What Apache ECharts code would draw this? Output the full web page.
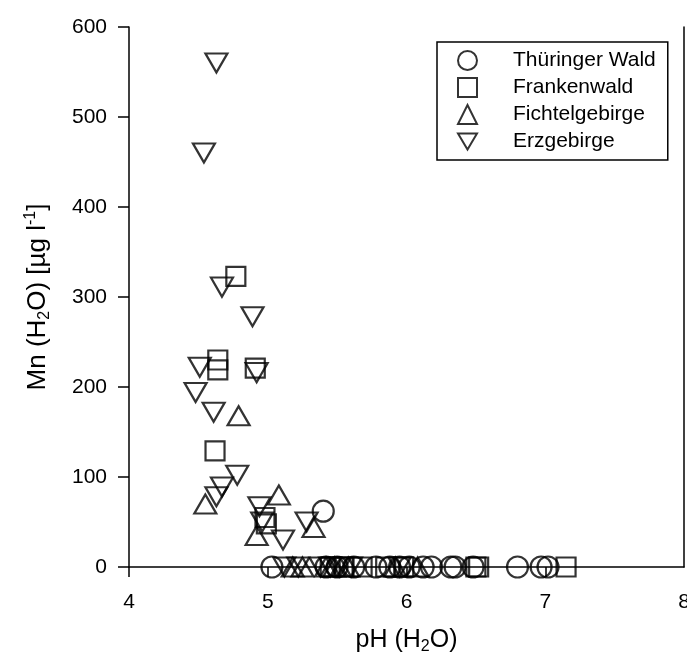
<!DOCTYPE html>
<html>
<head>
<meta charset="utf-8">
<script src="https://cdn.jsdelivr.net/npm/echarts@6/dist/echarts.min.js"></script>
<style>
  html, body { margin: 0; padding: 0; background: #fff; }
  #chart { width: 687px; height: 655px; }
</style>
</head>
<body>
<div id="chart"></div>
<script>
// pH values and Mn (µg/l), one pair of arrays per region
const thuringerPH = [5.40, 5.03, 5.42, 5.50, 5.62, 5.78, 5.88, 5.95, 6.02, 6.12, 6.18, 6.32, 6.35, 6.48, 6.80, 6.97, 7.02]
const thuringerMn = [62, 0, 0, 0, 0, 0, 0, 0, 0, 0, 0, 0, 0, 0, 0, 0, 0]

const frankenPH = [4.77, 4.64, 4.64, 4.91, 4.62, 4.98, 4.99, 5.45, 5.55, 5.68, 5.85, 5.98, 6.50, 6.52, 7.15]
const frankenMn = [323, 230, 219, 221, 129, 55, 48, 0, 0, 0, 0, 0, 0, 0, 0]

const fichtelPH = [4.79, 4.55, 5.08, 4.92, 5.33, 5.18, 5.25, 5.42, 5.48, 5.58, 5.92, 6.08]
const fichtelMn = [168, 70, 80, 35, 44, 0, 0, 0, 0, 0, 0, 0]

const erzPH = [4.63, 4.54, 4.67, 4.89, 4.51, 4.92, 4.48, 4.61, 4.78, 4.67, 4.63, 4.94, 4.96, 5.11, 5.28, 5.12, 5.22, 5.38, 5.45, 5.52, 5.60, 5.95]
const erzMn = [560, 460, 311, 278, 222, 216, 194, 172, 102, 89, 78, 67, 50, 30, 50, 0, 0, 0, 0, 0, 0, 0]

const seriesNames = ['Thüringer Wald', 'Frankenwald', 'Fichtelgebirge', 'Erzgebirge']
const xTicks = { min: 4, max: 8, interval: 1 }
const xTickMarks = [4, 5, 6, 7]
const yTicks = { min: 0, max: 600, interval: 100 }

const font = 'Liberation Sans, Arial, sans-serif'
const pairs = (xs, ys) => xs.map((x, i) => [x, ys[i]])

const markStyle = {
  color: 'rgba(0,0,0,0)',
  borderColor: '#000',
  borderWidth: 2.2
}

const option = {
  animation: false,
  backgroundColor: '#fff',
  textStyle: { fontFamily: font, color: '#000' },
  grid: { left: 129, top: 27, width: 555, height: 540, outerBoundsMode: 'none' },
  legend: {
    orient: 'vertical',
    left: 437,
    top: 42,
    borderColor: '#000',
    borderWidth: 1.5,
    padding: [8, 12, 8, 20],
    itemGap: 6,
    itemWidth: 19,
    itemHeight: 19,
    backgroundColor: '#fff',
    textStyle: { fontSize: 21, color: '#000', fontFamily: font, padding: [0, 0, 0, 31] },
    data: seriesNames
  },
  xAxis: [{
    type: 'value',
    min: xTicks.min,
    max: xTicks.max,
    interval: xTicks.interval,
    name: '{a|pH (H}{s|2}{a|O)}',
    nameLocation: 'middle',
    nameGap: 58,
    nameTextStyle: {
      rich: {
        a: { fontSize: 25, fontFamily: font, color: '#000', lineHeight: 30, verticalAlign: 'middle' },
        s: { fontSize: 16, fontFamily: font, color: '#000', lineHeight: 15, verticalAlign: 'bottom' }
      }
    },
    axisLine: { lineStyle: { color: '#000', width: 1.5 } },
    axisTick: { inside: false, length: 10, customValues: xTickMarks, lineStyle: { color: '#000', width: 1.5 } },
    axisLabel: { fontSize: 21, color: '#000', fontFamily: font, margin: 25 },
    splitLine: { show: false }
  }],
  yAxis: [{
    type: 'value',
    min: yTicks.min,
    max: yTicks.max,
    interval: yTicks.interval,
    name: '{a|Mn (H}{s|2}{a|O) [µg l}{p|-1}{a|]}',
    nameLocation: 'middle',
    nameGap: 76,
    nameTextStyle: {
      rich: {
        a: { fontSize: 26, fontFamily: font, color: '#000', lineHeight: 30, verticalAlign: 'middle' },
        s: { fontSize: 16, fontFamily: font, color: '#000', lineHeight: 15, verticalAlign: 'bottom' },
        p: { fontSize: 16, fontFamily: font, color: '#000', lineHeight: 15, verticalAlign: 'top' }
      }
    },
    axisLine: { lineStyle: { color: '#000', width: 1.5 } },
    axisTick: { inside: false, length: 11, lineStyle: { color: '#000', width: 1.5 } },
    axisLabel: { fontSize: 21, color: '#000', fontFamily: font, margin: 22 },
    splitLine: { show: false }
  }, {
    type: 'value',
    position: 'right',
    min: yTicks.min,
    max: yTicks.max,
    axisLine: { show: true, lineStyle: { color: '#000', width: 1.5 } },
    axisTick: { show: false },
    axisLabel: { show: false },
    splitLine: { show: false }
  }],
  series: [
    {
      name: seriesNames[0],
      type: 'scatter',
      symbol: 'circle',
      symbolSize: 21,
      itemStyle: markStyle,
      data: pairs(thuringerPH, thuringerMn)
    },
    {
      name: seriesNames[1],
      type: 'scatter',
      symbol: 'rect',
      symbolSize: 19,
      itemStyle: markStyle,
      data: pairs(frankenPH, frankenMn)
    },
    {
      name: seriesNames[2],
      type: 'scatter',
      symbol: 'triangle',
      symbolSize: [22, 19],
      itemStyle: markStyle,
      data: pairs(fichtelPH, fichtelMn)
    },
    {
      name: seriesNames[3],
      type: 'scatter',
      symbol: 'path://M0,0L20,0L10,17Z',
      symbolSize: [22, 19],
      itemStyle: markStyle,
      data: pairs(erzPH, erzMn)
    }
  ]
}

const chart = echarts.init(document.getElementById('chart'))
chart.setOption(option)
</script>
</body>
</html>
